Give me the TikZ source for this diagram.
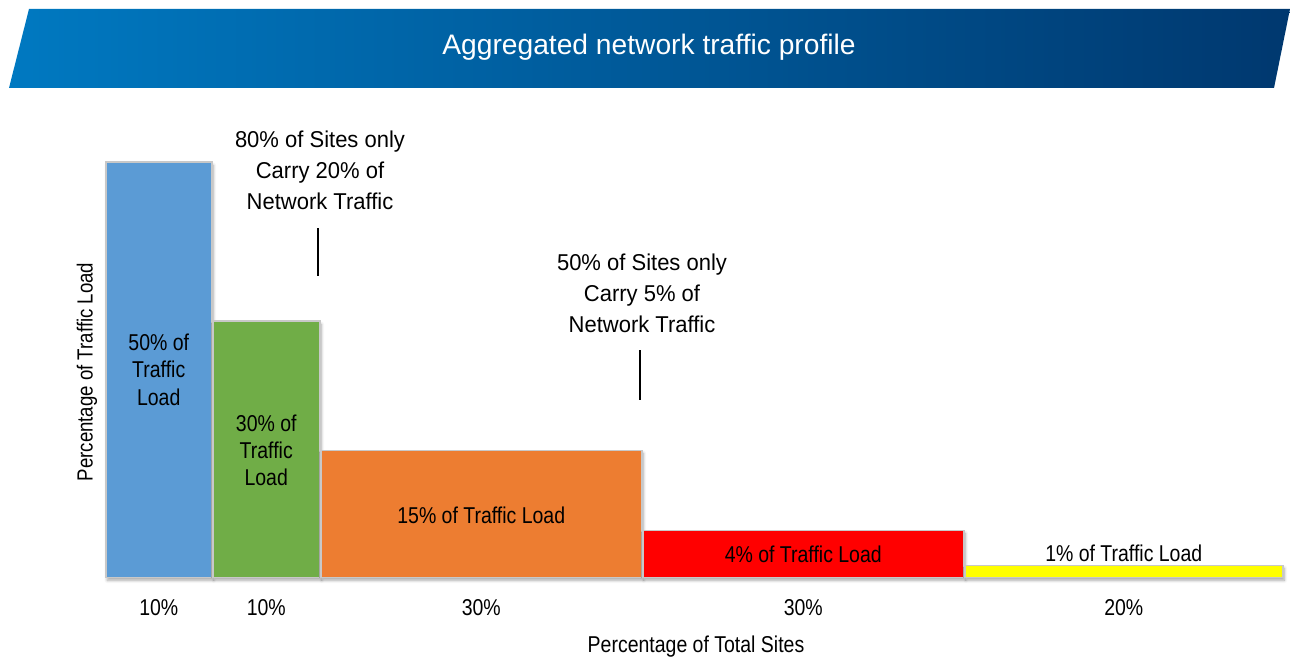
\documentclass[tikz,border=0pt]{standalone}
\usepackage{fontspec}
\setmainfont{Liberation Sans}
\newfontfamily\condfont[FakeStretch=0.85]{Liberation Sans}
\newfontfamily\notefont[FakeStretch=0.96]{Liberation Sans}
\usetikzlibrary{shadows.blur}
\definecolor{bannerL}{HTML}{0079C1}
\definecolor{bannerR}{HTML}{00386F}
\definecolor{barblue}{HTML}{5B9BD5}
\definecolor{bargreen}{HTML}{70AD47}
\definecolor{barorange}{HTML}{ED7D31}
\definecolor{barred}{HTML}{FF0000}
\definecolor{baryellow}{HTML}{FFFF00}
\definecolor{barline}{HTML}{C8C8C8}
\tikzset{
  bar/.style={draw=barline, line width=1.5bp, inner sep=0pt, anchor=south west,
    blur shadow={shadow xshift=1.5bp, shadow yshift=-3bp, shadow blur steps=6,
      shadow blur radius=3bp, shadow opacity=35}},
  lbl/.style={font=\condfont\fontsize{23}{27.5}\selectfont, align=center, inner sep=0pt, text=black},
  note/.style={font=\notefont\fontsize{23}{31}\selectfont, align=center, inner sep=0pt, text=black},
  tick/.style={font=\condfont\fontsize{23}{27}\selectfont, inner sep=0pt},
  pointer/.style={line width=1.5bp, black}
}
\begin{document}
\begin{tikzpicture}[x=1bp,y=-1bp]
\useasboundingbox (0,0) rectangle (1290,662);

% title banner
\shade[left color=bannerL, right color=bannerR]
  (29,9) -- (1290,9) -- (1274,88) -- (9,88) -- cycle;
\node (title) [text=white, font=\fontsize{28.3}{33}\selectfont] at (649,47) {Aggregated network traffic profile};

% bars
\node (b1) [bar, fill=barblue,   minimum width=106bp, minimum height=415bp] at (105,578) {};
\node (b2) [bar, fill=bargreen,  minimum width=107bp, minimum height=256bp] at (212,578) {};
\node (b3) [bar, fill=barorange, minimum width=321bp, minimum height=127bp] at (320,578) {};
\node (b4) [bar, fill=barred,    minimum width=321bp, minimum height=47bp]  at (642,578) {};
\node (b5) [bar, fill=baryellow, minimum width=318bp, minimum height=12bp]  at (964,578) {};

% labels of the bars
\node (l1) [lbl] at (b1.center) {50\% of\\Traffic\\Load};
\node (l2) [lbl] at ([yshift=-1bp]b2.center) {30\% of\\Traffic\\Load};
\node (l3) [lbl] at ([yshift=-1.5bp]b3.center) {15\% of Traffic Load};
\node (l4) [lbl] at ([yshift=-0.5bp]b4.center) {4\% of Traffic Load};
\node (l5) [lbl] at (b5.center |- 0,553) {1\% of Traffic Load};

% site shares
\node (t1) [tick] at (b1.center |- 0,608) {10\%};
\node (t2) [tick] at (b2.center |- 0,608) {10\%};
\node (t3) [tick] at (b3.center |- 0,608) {30\%};
\node (t4) [tick] at (b4.center |- 0,608) {30\%};
\node (t5) [tick] at (b5.center |- 0,608) {20\%};

% axis titles
\node (xt) [tick] at (696,647) {Percentage of Total Sites};
\node (yt) [tick, rotate=90, font=\condfont\fontsize{22}{26}\selectfont] at (87,372) {Percentage of Traffic Load};

% annotations
\node (n1) [note] at (320,170) {80\% of Sites only\\Carry 20\% of\\Network Traffic};
\coordinate (p1a) at (318,228);
\coordinate (p1b) at (318,276);
\draw[pointer] (p1a) -- (p1b);

\node (n2) [note] at (642,293) {50\% of Sites only\\Carry 5\% of\\Network Traffic};
\coordinate (p2a) at (640,350);
\coordinate (p2b) at (640,400);
\draw[pointer] (p2a) -- (p2b);
\end{tikzpicture}
\end{document}
